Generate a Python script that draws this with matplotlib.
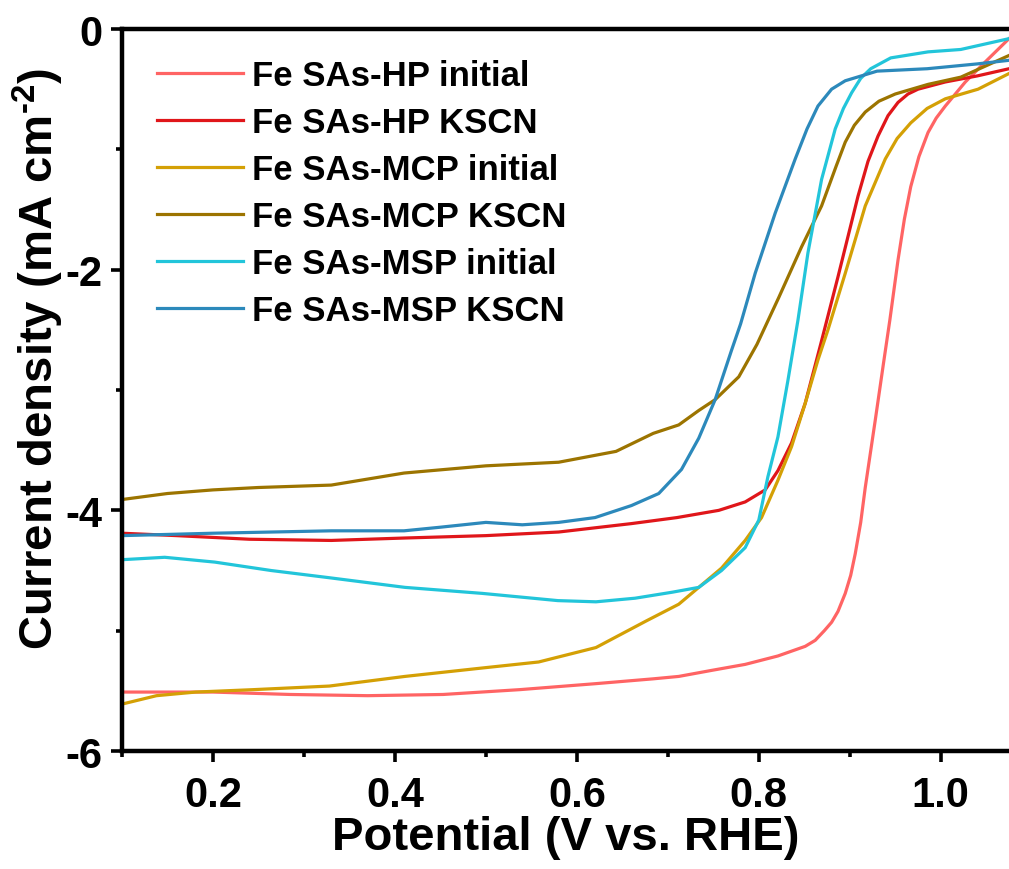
import matplotlib
matplotlib.use("Agg")
import matplotlib.pyplot as plt
from matplotlib.ticker import MultipleLocator

plt.rcParams.update({
    "font.family": "Liberation Sans",
    "font.weight": "bold",
    "axes.unicode_minus": False,
    "mathtext.fontset": "custom",
    "mathtext.rm": "Liberation Sans:bold",
    "mathtext.default": "rm",
})

# LSV curves (potential V vs RHE, current density mA cm-2)
hp_init_x = [0.10, 0.20, 0.285, 0.37, 0.453, 0.537, 0.621, 0.684, 0.712, 0.748, 0.785, 0.821,
             0.851, 0.862, 0.872, 0.88, 0.887, 0.895, 0.901, 0.906, 0.912, 0.917, 0.928, 0.937,
             0.944, 0.953, 0.96, 0.967, 0.976, 0.986, 0.995, 1.005, 1.027, 1.048, 1.075]
hp_init_y = [-5.51, -5.51, -5.53, -5.54, -5.53, -5.49, -5.44, -5.40, -5.38, -5.33, -5.28, -5.21,
             -5.13, -5.08, -5.00, -4.93, -4.84, -4.69, -4.54, -4.36, -4.10, -3.81, -3.25, -2.78,
             -2.42, -1.92, -1.58, -1.31, -1.06, -0.86, -0.74, -0.64, -0.44, -0.28, -0.08]

hp_kscn_x = [0.10, 0.16, 0.24, 0.33, 0.41, 0.50, 0.58, 0.66, 0.71, 0.756, 0.785, 0.807, 0.821,
             0.836, 0.851, 0.868, 0.887, 0.909, 0.92, 0.931, 0.942, 0.953, 0.964, 0.975, 1.005,
             1.04, 1.075]
hp_kscn_y = [-4.19, -4.21, -4.24, -4.25, -4.23, -4.21, -4.18, -4.11, -4.06, -4.00, -3.93, -3.83,
             -3.67, -3.44, -3.11, -2.62, -2.06, -1.39, -1.10, -0.89, -0.72, -0.61, -0.54, -0.50,
             -0.44, -0.39, -0.33]

mcp_init_x = [0.10, 0.138, 0.181, 0.244, 0.328, 0.411, 0.496, 0.558, 0.621, 0.676, 0.712, 0.734,
              0.759, 0.785, 0.803, 0.821, 0.836, 0.851, 0.865, 0.876, 0.895, 0.917, 0.939,
              0.952, 0.967, 0.985, 1.005, 1.041, 1.075]
mcp_init_y = [-5.61, -5.54, -5.51, -5.49, -5.46, -5.38, -5.31, -5.26, -5.14, -4.92, -4.78, -4.64,
              -4.48, -4.25, -4.06, -3.75, -3.47, -3.11, -2.75, -2.50, -2.03, -1.47, -1.08,
              -0.91, -0.78, -0.66, -0.58, -0.50, -0.37]

mcp_kscn_x = [0.10, 0.15, 0.20, 0.25, 0.33, 0.41, 0.50, 0.58, 0.643, 0.684, 0.712, 0.734, 0.752,
              0.778, 0.798, 0.822, 0.847, 0.869, 0.885, 0.895, 0.905, 0.917, 0.932, 0.95, 0.986,
              1.022, 1.075]
mcp_kscn_y = [-3.91, -3.86, -3.83, -3.81, -3.79, -3.69, -3.63, -3.60, -3.51, -3.36, -3.29, -3.17,
              -3.08, -2.89, -2.62, -2.23, -1.81, -1.47, -1.14, -0.94, -0.80, -0.69, -0.60, -0.54,
              -0.46, -0.40, -0.22]

msp_init_x = [0.10, 0.147, 0.202, 0.264, 0.328, 0.411, 0.496, 0.579, 0.621, 0.664, 0.705, 0.734,
              0.759, 0.785, 0.80, 0.81, 0.821, 0.832, 0.843, 0.854, 0.869, 0.884, 0.893, 0.902,
              0.912, 0.923, 0.945, 0.986, 1.022, 1.075]
msp_init_y = [-4.41, -4.39, -4.43, -4.50, -4.56, -4.64, -4.69, -4.75, -4.76, -4.73, -4.68, -4.64,
              -4.50, -4.31, -4.08, -3.72, -3.39, -2.92, -2.42, -1.86, -1.25, -0.83, -0.66, -0.53,
              -0.41, -0.33, -0.24, -0.19, -0.17, -0.08]

msp_kscn_x = [0.10, 0.20, 0.33, 0.41, 0.45, 0.50, 0.54, 0.58, 0.62, 0.66, 0.69, 0.715, 0.734,
              0.752, 0.77, 0.78, 0.796, 0.818, 0.84, 0.853, 0.865, 0.88, 0.895, 0.93, 0.985,
              1.04, 1.075]
msp_kscn_y = [-4.21, -4.19, -4.17, -4.17, -4.14, -4.10, -4.12, -4.10, -4.06, -3.96, -3.86, -3.66,
              -3.40, -3.08, -2.67, -2.45, -2.03, -1.53, -1.08, -0.83, -0.64, -0.50, -0.43, -0.35,
              -0.33, -0.29, -0.26]

labels = ["Fe SAs-HP initial", "Fe SAs-HP KSCN", "Fe SAs-MCP initial",
          "Fe SAs-MCP KSCN", "Fe SAs-MSP initial", "Fe SAs-MSP KSCN"]
colors = ["#ff6464", "#e0161a", "#d4a005", "#9c7400", "#22c5da", "#2c89bb"]
series = [(hp_init_x, hp_init_y), (hp_kscn_x, hp_kscn_y), (mcp_init_x, mcp_init_y),
          (mcp_kscn_x, mcp_kscn_y), (msp_init_x, msp_init_y), (msp_kscn_x, msp_kscn_y)]

fig = plt.figure(figsize=(10.09, 8.70), dpi=100)
ax = fig.add_axes([0.1209, 0.1356, 0.8791, 0.8299])

for (x, y), lab, c in zip(series, labels, colors):
    ax.plot(x, y, color=c, lw=2.3, label=lab)

ax.set_xlim(0.1, 1.075)
ax.set_ylim(-6, 0)
ax.xaxis.set_minor_locator(MultipleLocator(0.1))
ax.yaxis.set_minor_locator(MultipleLocator(1))
ax.set_xticks([0.2, 0.4, 0.6, 0.8, 1.0])
ax.set_xticklabels(["0.2", "0.4", "0.6", "0.8", "1.0"])
ax.set_yticks([0, -2, -4, -6])
ax.set_yticklabels(["0", "-2", "-4", "-6"])

for s in ["left", "bottom", "top"]:
    ax.spines[s].set_linewidth(3.2)
ax.spines["right"].set_visible(False)
ax.tick_params(which="major", direction="out", length=8, width=2.6, labelsize=30, pad=6)
ax.tick_params(axis="x", which="major", pad=9)
ax.tick_params(which="minor", direction="out", length=4, width=2.6)
ax.tick_params(top=False, right=False, which="both")

ax.set_xlabel("Potential (V vs. RHE)", fontsize=34, fontweight="bold", labelpad=0)
ax.set_ylabel(r"Current density (mA cm$^{\text{-2}}$)", fontsize=34, fontweight="bold")
ax.yaxis.set_label_coords(-0.063, 0.544)

ax.legend(loc="upper left", bbox_to_anchor=(0.039, 0.958), frameon=False, fontsize=25,
          handlelength=2.5, handletextpad=0.25, labelspacing=0.4, borderpad=0, borderaxespad=0)

fig.savefig("out.png", dpi=100)
